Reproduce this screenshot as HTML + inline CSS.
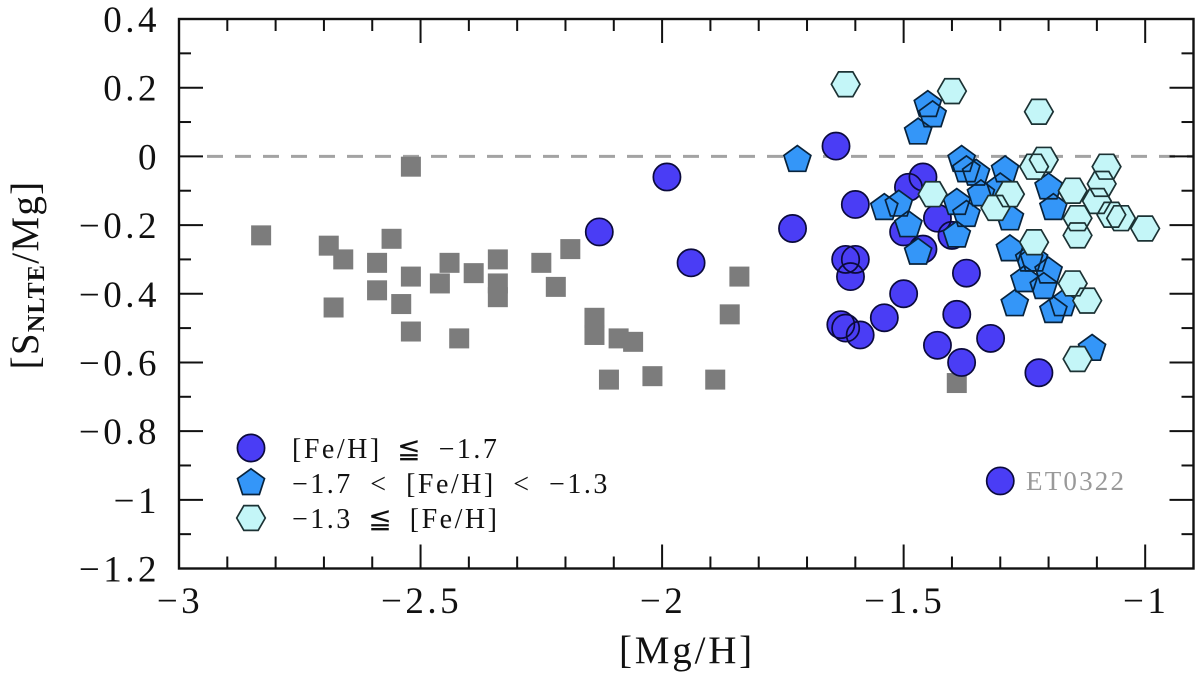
<!DOCTYPE html>
<html lang="en">
<head>
<meta charset="utf-8">
<title>[S NLTE/Mg] vs [Mg/H]</title>
<style>
html,body{margin:0;padding:0;background:#fff;width:1200px;height:675px;overflow:hidden}
svg{display:block}
text{font-family:"Liberation Serif","DejaVu Serif",serif;fill:#111}
</style>
</head>
<body>
<svg id="chart" xmlns="http://www.w3.org/2000/svg" width="1200" height="675" viewBox="0 0 1200 675">
  <rect x="0" y="0" width="1200" height="675" fill="#fff"/>
  <g id="marks"></g>
  <g id="axes"></g>
  <text x="687" y="663" text-anchor="middle" font-size="39" letter-spacing="2.8">[Mg/H]</text>
  <text transform="translate(38,275) rotate(-90)" text-anchor="middle" font-size="39" letter-spacing="1.3">[S<tspan font-size="24" dy="6" font-weight="bold">NLTE</tspan><tspan dy="-6">/Mg]</tspan></text>
  <g id="legend">
    <text x="292" y="458" font-size="28" letter-spacing="2.5" word-spacing="6">[Fe/H] ≦ −1.7</text>
    <text x="292" y="493" font-size="28" letter-spacing="2.5" word-spacing="8">−1.7 &lt; [Fe/H] &lt; −1.3</text>
    <text x="292" y="528" font-size="28" letter-spacing="2.5" word-spacing="6">−1.3 ≦ [Fe/H]</text>
  </g>
  <text x="1026" y="490" font-size="27" letter-spacing="2.2" style="fill:#999">ET0322</text>
</svg>
<script>
// Chart data
const squaresX = [-2.83,-2.69,-2.66,-2.59,-2.59,-2.56,-2.54,-2.52,-2.52,-2.52,-2.68,-2.46,-2.44,-2.42,-2.39,-2.34,-2.34,-2.34,-2.25,-2.22,-2.19,-2.14,-2.14,-2.11,-2.09,-2.06,-2.02,-1.89,-1.86,-1.84,-1.39];
const squaresY = [-0.23,-0.26,-0.30,-0.31,-0.39,-0.24,-0.43,-0.35,-0.51,-0.03,-0.44,-0.37,-0.31,-0.53,-0.34,-0.30,-0.37,-0.41,-0.31,-0.38,-0.27,-0.47,-0.52,-0.65,-0.53,-0.54,-0.64,-0.65,-0.46,-0.35,-0.66];
const circlesX = [-1.99,-2.13,-1.94,-1.73,-1.64,-1.46,-1.49,-1.60,-1.43,-1.50,-1.46,-1.40,-1.62,-1.60,-1.61,-1.37,-1.50,-1.54,-1.63,-1.62,-1.59,-1.39,-1.43,-1.38,-1.32,-1.22,-1.30];
const circlesY = [-0.06,-0.22,-0.31,-0.21,0.03,-0.06,-0.09,-0.14,-0.18,-0.22,-0.27,-0.23,-0.30,-0.30,-0.35,-0.34,-0.40,-0.47,-0.49,-0.50,-0.52,-0.46,-0.55,-0.60,-0.53,-0.63,-0.945];
const pentagonsX = [-1.72,-1.45,-1.44,-1.47,-1.38,-1.37,-1.35,-1.29,-1.34,-1.30,-1.20,-1.19,-1.54,-1.51,-1.39,-1.37,-1.28,-1.49,-1.47,-1.39,-1.28,-1.24,-1.23,-1.20,-1.25,-1.21,-1.27,-1.19,-1.17,-1.11];
const pentagonsY = [-0.01,0.15,0.12,0.07,-0.01,-0.04,-0.05,-0.04,-0.11,-0.09,-0.09,-0.15,-0.15,-0.14,-0.135,-0.17,-0.18,-0.20,-0.28,-0.23,-0.27,-0.30,-0.30,-0.335,-0.36,-0.38,-0.43,-0.45,-0.43,-0.56];
const hexagonsX = [-1.62,-1.40,-1.22,-1.21,-1.23,-1.08,-1.09,-1.15,-1.10,-1.44,-1.28,-1.31,-1.07,-1.05,-1.14,-1.14,-1.00,-1.23,-1.15,-1.12,-1.14];
const hexagonsY = [0.21,0.19,0.13,-0.01,-0.03,-0.03,-0.08,-0.10,-0.13,-0.11,-0.11,-0.15,-0.17,-0.18,-0.18,-0.23,-0.21,-0.25,-0.37,-0.42,-0.59];
const xTickValues = [-3,-2.9,-2.8,-2.7,-2.6,-2.5,-2.4,-2.3,-2.2,-2.1,-2,-1.9,-1.8,-1.7,-1.6,-1.5,-1.4,-1.3,-1.2,-1.1,-1,-0.9];
const xLabelValues = [-3,-2.5,-2,-1.5,-1];
const xLabelTexts = ['−3','−2.5','−2','−1.5','−1'];
const yTickValues = [0.4,0.3,0.2,0.1,0,-0.1,-0.2,-0.3,-0.4,-0.5,-0.6,-0.7,-0.8,-0.9,-1,-1.1,-1.2];
const yLabelValues = [0.4,0.2,0,-0.2,-0.4,-0.6,-0.8,-1,-1.2];
const yLabelTexts = ['0.4','0.2','0','−0.2','−0.4','−0.6','−0.8','−1','−1.2'];
const xDomain = [-3,-0.9];
const yDomain = [-1.2,0.4];
const referenceLineValue = 0;

const PLOT = {left:179,right:1193.5,top:19,bottom:568.5};
const NS = 'http://www.w3.org/2000/svg';
function xScale(v){return PLOT.left+(v-xDomain[0])/(xDomain[1]-xDomain[0])*(PLOT.right-PLOT.left);}
function yScale(v){return PLOT.bottom-(v-yDomain[0])/(yDomain[1]-yDomain[0])*(PLOT.bottom-PLOT.top);}
function make(tag,parent){const el=document.createElementNS(NS,tag);parent.appendChild(el);return el;}
function polyPoints(cx,cy,r,n,startDeg){
  const pts=[];
  for(let i=0;i<n;i++){
    const a=(startDeg+i*360/n)*Math.PI/180;
    pts.push((cx+r*Math.cos(a)).toFixed(2)+','+(cy+r*Math.sin(a)).toFixed(2));
  }
  return pts.join(' ');
}
const marks=document.getElementById('marks');
const axes=document.getElementById('axes');
const legend=document.getElementById('legend');

// dashed reference line
const refLine=make('line',marks);


refLine.setAttribute('x1',207);
refLine.setAttribute('x2',PLOT.right);
refLine.setAttribute('y1',yScale(referenceLineValue));
refLine.setAttribute('y2',yScale(referenceLineValue));
refLine.setAttribute('stroke','#a3a3a3');
refLine.setAttribute('stroke-width','3');
refLine.setAttribute('stroke-dasharray','16 12');

// grey squares
for(let i=0;i<squaresX.length;i++){
  const s=make('rect',marks);
  
  
  s.setAttribute('x',xScale(squaresX[i])-10);
  s.setAttribute('y',yScale(squaresY[i])-10);
  s.setAttribute('width',20);
  s.setAttribute('height',20);
  s.setAttribute('fill','#7c7c7c');
}

function circleShape(parent,cx,cy){
  const c=make('circle',parent);
  c.setAttribute('cx',cx);
  c.setAttribute('cy',cy);
  c.setAttribute('r',13.6);
  return c;
}
function pentagonShape(parent,cx,cy){
  const p=make('polygon',parent);
  p.setAttribute('points',polyPoints(cx,cy,14.2,5,-90));
  return p;
}
function hexagonShape(parent,cx,cy){
  const h=make('polygon',parent);
  h.setAttribute('points',polyPoints(cx,cy,14.3,6,0));
  return h;
}
// each series: fills first, then outlines so overlapping edges stay visible
function drawSeries(xs,ys,shape,fill,stroke,name){
  const group=make('g',marks);
  
  
  for(let i=0;i<xs.length;i++){
    const f=shape(group,xScale(xs[i]),yScale(ys[i]));
    
    
    f.setAttribute('fill',fill);
  }
  for(let i=0;i<xs.length;i++){
    const o=shape(group,xScale(xs[i]),yScale(ys[i]));
    
    
    o.setAttribute('fill','none');
    o.setAttribute('stroke',stroke);
    o.setAttribute('stroke-width','1.7');
  }
}
drawSeries(circlesX,circlesY,circleShape,'#4a3df5','#0b0a3c','circle');
drawSeries(pentagonsX,pentagonsY,pentagonShape,'#3496f8','#08233c','pentagon');
drawSeries(hexagonsX,hexagonsY,hexagonShape,'#c4f6f8','#1c3234','hexagon');

// legend markers
const legendCircle=circleShape(legend,251,448);


legendCircle.setAttribute('fill','#4a3df5');
legendCircle.setAttribute('stroke','#0b0a3c');
legendCircle.setAttribute('stroke-width','1.7');
const legendPentagon=pentagonShape(legend,251,483);


legendPentagon.setAttribute('fill','#3496f8');
legendPentagon.setAttribute('stroke','#08233c');
legendPentagon.setAttribute('stroke-width','1.7');
const legendHexagon=hexagonShape(legend,251,518);


legendHexagon.setAttribute('fill','#c4f6f8');
legendHexagon.setAttribute('stroke','#1c3234');
legendHexagon.setAttribute('stroke-width','1.7');

// frame
const frame=make('rect',axes);


frame.setAttribute('x',PLOT.left);
frame.setAttribute('y',PLOT.top);
frame.setAttribute('width',PLOT.right-PLOT.left);
frame.setAttribute('height',PLOT.bottom-PLOT.top);
frame.setAttribute('fill','none');
frame.setAttribute('stroke','#111');
frame.setAttribute('stroke-width','2.4');

function tick(x1,y1,x2,y2,name){
  const t=make('line',axes);
  
  
  t.setAttribute('x1',x1);
  t.setAttribute('y1',y1);
  t.setAttribute('x2',x2);
  t.setAttribute('y2',y2);
  t.setAttribute('stroke','#111');
  t.setAttribute('stroke-width','2');
}
xTickValues.forEach(v=>{
  const major=xLabelValues.some(m=>Math.abs(m-v)<1e-6);
  const len=major?24:12;
  const x=xScale(v);
  tick(x,PLOT.bottom,x,PLOT.bottom-len,'x-axis-tick');
  tick(x,PLOT.top,x,PLOT.top+len,'x-axis-top-tick');
});
yTickValues.forEach(v=>{
  const major=yLabelValues.some(m=>Math.abs(m-v)<1e-6);
  const len=major?24:12;
  const y=yScale(v);
  tick(PLOT.left,y,PLOT.left+len,y,'y-axis-tick');
  tick(PLOT.right,y,PLOT.right-len,y,'y-axis-right-tick');
});
xLabelValues.forEach((v,i)=>{
  const t=make('text',axes);
  
  
  t.setAttribute('x',xScale(v)+1);
  t.setAttribute('y',613);
  t.setAttribute('text-anchor','middle');
  t.setAttribute('font-size','37');
  t.setAttribute('letter-spacing','3.5');
  t.textContent=xLabelTexts[i];
});
yLabelValues.forEach((v,i)=>{
  const t=make('text',axes);
  
  
  t.setAttribute('x',160);
  t.setAttribute('y',yScale(v)+13);
  t.setAttribute('text-anchor','end');
  t.setAttribute('font-size','37');
  t.setAttribute('letter-spacing','3.5');
  t.textContent=yLabelTexts[i];
});
</script>
</body>
</html>
